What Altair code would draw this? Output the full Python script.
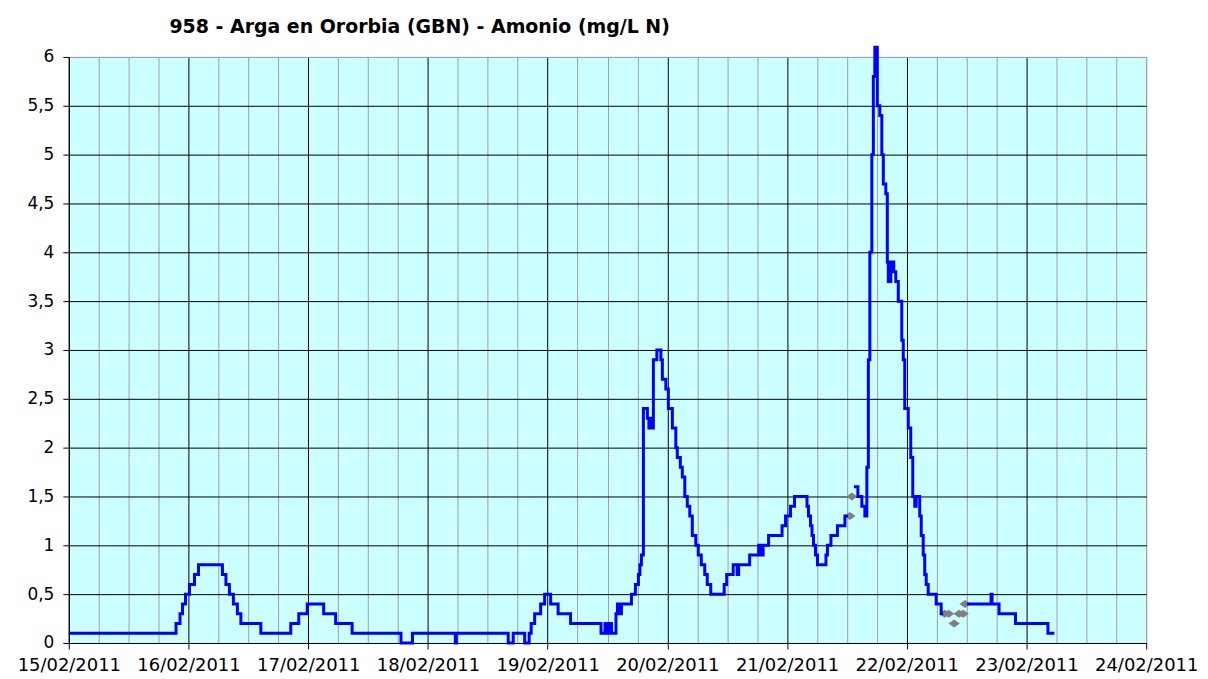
import altair as alt
import pandas as pd

TITLE = "958 - Arga en Ororbia (GBN) - Amonio (mg/L N)"
START = "2011-02-15"

# Blue series, change points (hours since 15/02/2011 00:00, value in mg/L N), drawn as steps
seg1_hours = [0, 21.5, 22.3, 22.8, 23.4, 24.2, 25.2, 26.0, 30.8, 31.5, 32.2, 33.0, 33.8, 34.5,
              38.5, 44.5, 46.1, 47.8, 51.1, 53.5, 56.8, 66.6, 68.9, 77.5, 77.7, 88.1, 89.1,
              91.4, 92.3, 92.7, 93.4, 94.6, 95.4, 96.6, 98.1, 100.6, 106.7, 107.5, 107.8,
              108.4, 108.8, 109.7, 110.0, 110.4, 110.8, 112.8, 113.6, 114.2, 114.5, 114.8,
              115.2, 116.0, 116.3, 116.6, 116.8, 117.2, 117.9, 118.7, 119.0, 119.7, 120.2,
              121.0, 121.7, 122.0, 122.6, 123.0, 123.5, 124.0, 124.5, 125.0, 125.7, 126.2,
              126.8, 127.5, 128.0, 128.7, 131.4, 131.9, 133.2, 134.0, 134.3, 136.5, 138.3,
              138.6, 139.2, 140.3, 143.0, 143.7, 144.7, 145.5, 148.0, 148.3, 148.7, 149.0,
              149.3, 149.7, 150.1, 151.8, 152.1, 152.8, 154.1, 155.6, 156.2]
seg1_values = [0.1, 0.2, 0.3, 0.4, 0.5, 0.6, 0.7, 0.8, 0.7, 0.6, 0.5, 0.4, 0.3, 0.2,
               0.1, 0.2, 0.3, 0.4, 0.3, 0.2, 0.1, 0.0, 0.1, 0.0, 0.1, 0.0, 0.1,
               0.0, 0.1, 0.2, 0.3, 0.4, 0.5, 0.4, 0.3, 0.2, 0.1, 0.2, 0.1,
               0.2, 0.1, 0.3, 0.4, 0.3, 0.4, 0.5, 0.6, 0.7, 0.8, 0.9,
               2.4, 2.3, 2.2, 2.3, 2.2, 2.9, 3.0, 2.9, 2.7, 2.6, 2.4,
               2.2, 2.0, 1.9, 1.8, 1.7, 1.5, 1.4, 1.3, 1.1, 1.0, 0.9,
               0.8, 0.7, 0.6, 0.5, 0.6, 0.7, 0.8, 0.7, 0.8, 0.9, 1.0,
               0.9, 1.0, 1.1, 1.2, 1.3, 1.4, 1.5, 1.4, 1.3, 1.2, 1.1,
               1.0, 0.9, 0.8, 0.9, 1.0, 1.1, 1.2, 1.3, 1.3]

seg2_hours = [157.4, 158.2, 159.0, 159.6, 160.0, 160.3, 160.6, 161.0, 161.3, 161.6, 162.1,
              162.6, 163.0, 163.3, 163.8, 164.1, 164.3, 164.8, 165.4, 165.8, 166.3, 167.0,
              167.3, 167.6, 168.3, 168.8, 169.2, 169.6, 169.9, 170.6, 170.9, 171.3, 171.6,
              171.9, 172.3, 173.9, 174.9, 175.3]
seg2_values = [1.6, 1.5, 1.4, 1.3, 1.8, 2.9, 4.0, 5.0, 5.8, 6.1, 5.5,
               5.4, 5.0, 4.7, 4.6, 3.9, 3.7, 3.9, 3.8, 3.7, 3.5, 3.1,
               2.9, 2.4, 2.2, 1.9, 1.5, 1.4, 1.5, 1.3, 1.1, 0.9, 0.7,
               0.6, 0.5, 0.4, 0.3, 0.3]

seg3_hours = [180.1, 184.9, 185.1, 186.5, 189.8, 196.3, 197.6]
seg3_values = [0.4, 0.5, 0.4, 0.3, 0.2, 0.1, 0.1]

# Grey markers
grey_hours = [156.6, 157.0, 175.6, 176.4, 177.5, 178.5, 179.3, 179.7]
grey_values = [1.3, 1.5, 0.3, 0.3, 0.2, 0.3, 0.3, 0.4]

day_dates = [15, 16, 17, 18, 19, 20, 21, 22, 23, 24]
minor_hours = [6, 12, 18]
y_ticks = [0, 0.5, 1, 1.5, 2, 2.5, 3, 3.5, 4, 4.5, 5, 5.5, 6]


def frame(hours, values, seg):
    t = pd.Timestamp(START) + pd.to_timedelta(hours, unit="h")
    return pd.DataFrame({"t": t.strftime("%Y-%m-%dT%H:%M:%S"), "v": values, "seg": seg})


line_df = pd.concat([frame(seg1_hours, seg1_values, 1),
                     frame(seg2_hours, seg2_values, 2),
                     frame(seg3_hours, seg3_values, 3)], ignore_index=True)
grey_df = frame(grey_hours, grey_values, 0)

x_domain = [alt.DateTime(year=2011, month=2, date=15), alt.DateTime(year=2011, month=2, date=24)]
x_scale = alt.Scale(domain=x_domain)
y_scale = alt.Scale(domain=[0, 6], nice=False, zero=True)

major_vals = [alt.DateTime(year=2011, month=2, date=d) for d in day_dates]
minor_vals = [alt.DateTime(year=2011, month=2, date=d, hours=h)
              for d in day_dates[:-1] for h in minor_hours]

FONT = "DejaVu Sans"
GREY = "#A0A0A0"

x_main = alt.Axis(
    orient="bottom", values=major_vals, format="%d/%m/%Y", title=None,
    grid=True,
    gridColor={"condition": {"test": "datum.value >= datetime(2011,1,24)", "value": GREY},
               "value": "#000000"},
    gridOpacity=1, gridWidth=1,
    domainColor="#000000", domainWidth=1, tickColor="#000000", tickSize=6, tickWidth=1,
    labelFont=FONT, labelFontSize=18, labelColor="#000000", labelPadding=8,
    labelAngle=0, labelAlign="center", labelOverlap=False, labelFlush=False,
)
x_minor = alt.Axis(
    orient="top", values=minor_vals, title=None, labels=False, ticks=False, domain=False,
    grid=True, gridColor=GREY, gridOpacity=1, gridWidth=1,
)
y_main = alt.Axis(
    orient="left", values=y_ticks, title=None, grid=True,
    gridColor={"condition": {"test": "datum.value >= 6", "value": GREY}, "value": "#000000"},
    gridOpacity=1, gridWidth=1,
    domainColor="#000000", tickColor="#000000", tickSize=6,
    labelFont=FONT, labelFontSize=17, labelColor="#000000", labelPadding=9,
    labelExpr="replace(format(datum.value, '.1~f'), '.', ',')",
)
y_right = alt.Axis(orient="right", title=None, labels=False, ticks=False, domain=False, grid=False)

line = alt.Chart(line_df).mark_line(
    interpolate="step-after", color="#0000FF", strokeWidth=3, clip=False
).encode(
    x=alt.X("t:T", scale=x_scale, axis=x_main),
    y=alt.Y("v:Q", scale=y_scale, axis=y_main),
    detail="seg:N",
)

points = alt.Chart(grey_df).mark_point(
    shape="M -1 0 L 0 -0.7 L 1 0 L 0 0.7 Z", filled=True, color="#808080",
    size=130, opacity=1
).encode(
    x=alt.X("t:T", scale=x_scale, axis=x_minor),
    y=alt.Y("v:Q", scale=y_scale, axis=y_right),
)

chart = alt.layer(points, line).resolve_axis(x="independent", y="independent").properties(
    width=1081, height=588,
    autosize=alt.AutoSizeParams(type="none"),
    padding={"left": 61, "top": 48, "right": 54, "bottom": 30},
    title=alt.TitleParams(
        text=TITLE, anchor="start", frame="group", dx=101, dy=32, offset=21,
        baseline="alphabetic",
        font=FONT, fontSize=19, fontWeight="bold", color="#000000",
    ),
).configure(
    background="#FFFFFF",
    view=alt.ViewConfig(fill="#CCFFFF", stroke=GREY, strokeWidth=1),
)

chart.save("out.html", embed_options={"renderer": "svg", "actions": False})
